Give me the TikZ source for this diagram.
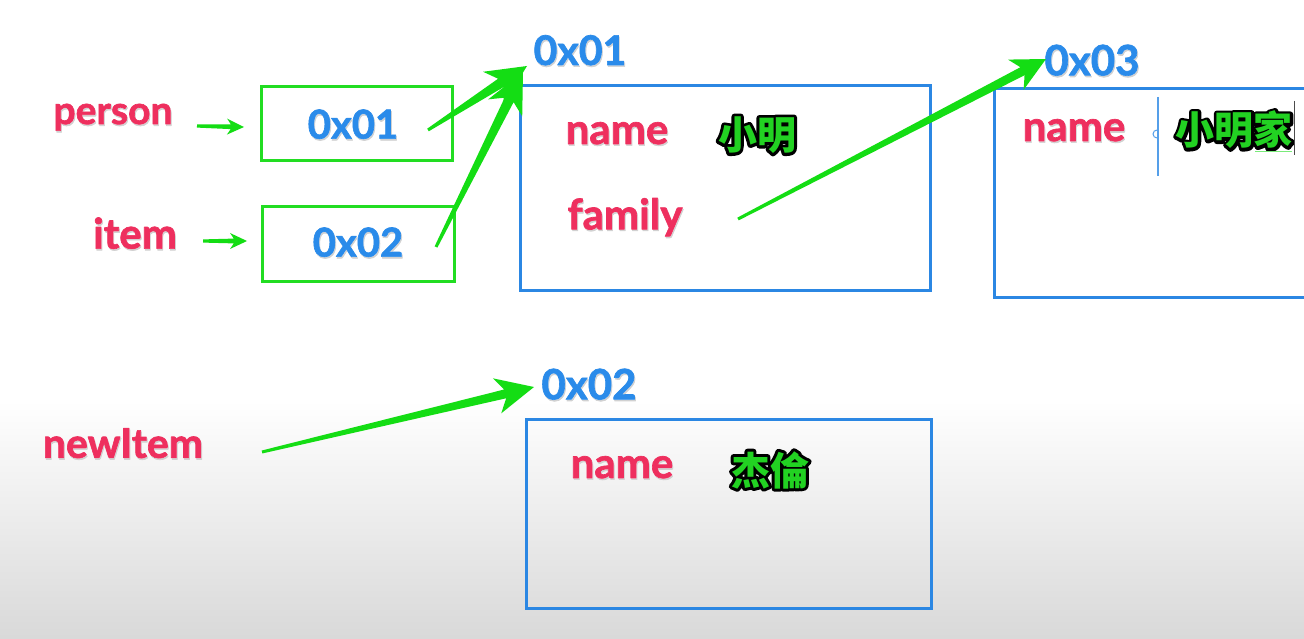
\documentclass[tikz,border=0pt]{standalone}
\usepackage{fontspec}
\setmainfont{Lato}[BoldFeatures={FakeBold=1.6}]
\newfontfamily\cjk{Noto Sans CJK SC}
\usetikzlibrary{calc}
\definecolor{pinkred}{HTML}{EE2F5E}
\definecolor{addrblue}{HTML}{2A8BEA}
\definecolor{boxblue}{HTML}{2B87E3}
\definecolor{ptrgreen}{HTML}{22DD22}
\definecolor{arrgreen}{HTML}{14DD14}
\definecolor{cjkgreen}{HTML}{22D222}
\newcommand\tarrow[6]{% start, tip, head length, head half width, start half width, shaft half width
  \fill[arrgreen]
    ($(#1)!#5!90:(#2)$) --
    ($($(#2)!0.78*#3!(#1)$)!#6!90:(#2)$) --
    ($($(#2)!#3!(#1)$)!#4!90:(#2)$) --
    (#2) --
    ($($(#2)!#3!(#1)$)!#4!-90:(#2)$) --
    ($($(#2)!0.78*#3!(#1)$)!#6!-90:(#2)$) --
    ($(#1)!#5!-90:(#2)$) -- cycle;}
% outlined CJK text: stroked black copy under a filled green copy
\newcommand\cjkout[1]{\rlap{\special{pdf:literal direct 1 Tr 6 w 1 J 1 j 0 0 0 RG}#1\special{pdf:literal direct 0 Tr}}#1}
% label text with white halo and faint drop shadow
\newcommand\halo[1]{\rlap{\raisebox{-1.6pt}{\kern0.9pt\color{black!18}\special{pdf:literal direct 2 Tr 3.5 w 1 J 1 j}#1\special{pdf:literal direct 0 Tr}}}\rlap{\color{white}\special{pdf:literal direct 2 Tr 3 w 1 J 1 j}#1\special{pdf:literal direct 0 Tr}}#1}
\begin{document}
\begin{tikzpicture}[x=1pt,y=-1pt,
  lbl/.style={font=\fontsize{42}{42}\selectfont\bfseries, text=pinkred, inner sep=0pt},
  addr/.style={font=\fontsize{40}{40}\selectfont\bfseries, text=addrblue, inner sep=0pt},
  cjktext/.style={font=\cjk\bfseries\fontsize{39}{39}\selectfont, text=cjkgreen, inner sep=0pt},
  membox/.style={draw=boxblue, line width=2.8pt, anchor=north west, inner sep=0pt},
  ptrbox/.style={draw=ptrgreen, line width=2.8pt, anchor=north west, inner sep=0pt}]
\path[use as bounding box] (0,0) rectangle (1304,639);
\clip (0,0) rectangle (1304,639);
\fill[white] (0,0) rectangle (1304,639);
\shade[top color=white, bottom color=black!15] (0,400) rectangle (1304,639);

% pointer boxes
\node[ptrbox, minimum width=191pt, minimum height=74pt] (p1) at (260,85) {};
\node[ptrbox, minimum width=192pt, minimum height=75pt] (p2) at (261,205) {};
% memory boxes
\node[membox, minimum width=410pt, minimum height=205pt] (m1) at (519,84) {};
\node[membox, minimum width=340pt, minimum height=209pt] (m3) at (993,87) {};
\node[membox, minimum width=405pt, minimum height=189pt] (m2) at (525,418) {};

% variable labels
\node[lbl, font=\fontsize{39}{39}\selectfont\bfseries] (person) at (113,118) {\halo{person}};
\node[lbl] (item) at (135,234) {\halo{item}};
\node[lbl, font=\fontsize{41}{41}\selectfont\bfseries] (newitem) at (123,444) {\halo{newItem}};

% addresses
\node[addr] (v1) at (353,125) {\halo{0x01}};
\node[addr] (v2) at (358,243) {\halo{0x02}};
\node[addr, font=\fontsize{41}{41}\selectfont\bfseries] (a1) at (580,51) {\halo{0x01}};
\node[addr, font=\fontsize{42}{42}\selectfont\bfseries] (a3) at (1092,61) {\halo{0x03}};
\node[addr, font=\fontsize{42}{42}\selectfont\bfseries] (a2) at (589,385) {\halo{0x02}};

% fields
\node[lbl] (n1) at (617,134) {\halo{name}};
\node[lbl] (f1) at (625,218) {\halo{family}};
\node[cjktext] (c1) at (757,135) {\cjkout{小明}};
\node[lbl] (n3) at (1074,131) {\halo{name}};
\node[cjktext] (c3) at (1234,130) {\cjkout{小明家}};
\node[lbl] (n2) at (622,468) {\halo{name}};
\node[cjktext] (c2) at (770,470) {\cjkout{杰倫}};

% cursor marks in box 0x03
\draw[boxblue!80, line width=1.2pt] (1158,97) -- (1158,176);
\draw[boxblue!80, line width=1pt] (1157,130) arc (90:270:4pt);
\draw[black!70, line width=1pt] (1294,101) -- (1294,155);
\draw[ptrgreen!60, line width=1pt] (1255,152) -- (1292,152);

% arrow anchor points
\coordinate (s1) at (197,126);
\coordinate (t1) at (244,127);
\coordinate (s2) at (203,241);
\coordinate (t2) at (247,241);
\coordinate (s3) at (428,130);
\coordinate (s4) at (436,247);
\coordinate (t3) at (527,66);
\coordinate (t4) at (523,72);
\coordinate (s5) at (738,219);
\coordinate (t5) at (1046,59);
\coordinate (s6) at (262,452);
\coordinate (t6) at (534,387);

\tarrow{s1}{t1}{17pt}{8pt}{1.6pt}{2.4pt}
\tarrow{s2}{t2}{17pt}{8pt}{1.6pt}{2.4pt}
\tarrow{s3}{t3}{40pt}{19pt}{1.5pt}{5pt}
\tarrow{s4}{t4}{40pt}{19pt}{1.5pt}{5pt}
\tarrow{s5}{t5}{34pt}{17pt}{1.5pt}{4.5pt}
\tarrow{s6}{t6}{38pt}{18pt}{1.5pt}{4.5pt}
\end{tikzpicture}
\end{document}
